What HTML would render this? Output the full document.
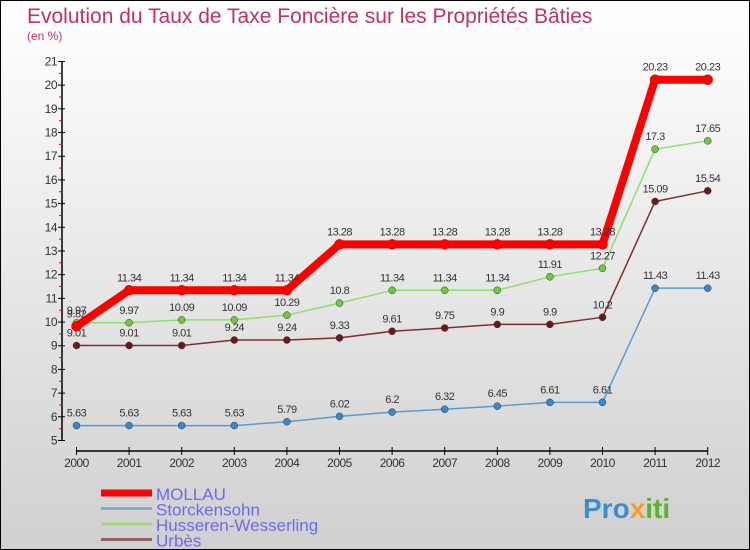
<!DOCTYPE html>
<html><head><meta charset="utf-8"><style>
body{margin:0}
#c{width:748px;height:548px;border:1px solid #000;background:linear-gradient(#ffffff,#d0d0d0);position:relative;overflow:hidden;font-family:"Liberation Sans","DejaVu Sans",sans-serif}
</style></head><body>
<div id="c">
<svg id="s" width="748" height="548" xmlns="http://www.w3.org/2000/svg">
<text x="26" y="22" font-size="21" fill="#c0306a" font-weight="300">Evolution du Taux de Taxe Foncière sur les Propriétés Bâties</text>
<text x="26" y="39" font-size="12" fill="#c0306a">(en %)</text>
<g id="axes"></g><g id="series"></g><g id="legend"></g>
<text x="582" y="517" font-size="28" font-weight="bold" fill="#3a8fd0">Pro<tspan fill="#f0a020">x</tspan><tspan fill="#60b030">iti</tspan></text>
</svg></div>
<script>
const years=[2000,2001,2002,2003,2004,2005,2006,2007,2008,2009,2010,2011,2012];
const yTicks=[5,6,7,8,9,10,11,12,13,14,15,16,17,18,19,20,21];
const mollau=[9.82,11.34,11.34,11.34,11.34,13.28,13.28,13.28,13.28,13.28,13.28,20.23,20.23];
const storckensohn=[5.63,5.63,5.63,5.63,5.79,6.02,6.2,6.32,6.45,6.61,6.61,11.43,11.43];
const husseren=[9.97,9.97,10.09,10.09,10.29,10.8,11.34,11.34,11.34,11.91,12.27,17.3,17.65];
const urbes=[9.01,9.01,9.01,9.24,9.24,9.33,9.61,9.75,9.9,9.9,10.2,15.09,15.54];
const names=["MOLLAU","Storckensohn","Husseren-Wesserling","Urbès"];
const NS="http://www.w3.org/2000/svg";
function X(i){return 75.5+i*52.6;}
function Y(v){return 439.5-(v-5)*23.69;}
function mk(t,a,p){const e=document.createElementNS(NS,t);for(const k in a)e.setAttribute(k,a[k]);p.appendChild(e);return e;}
const ax=document.getElementById('axes');
let e=mk('line',{x1:61,y1:Y(21),x2:61,y2:Y(5),stroke:'#000','stroke-width':1.5},ax);

e=mk('line',{x1:X(0),y1:450,x2:X(12),y2:450,stroke:'#000','stroke-width':1.5},ax);

yTicks.forEach(v=>{mk('line',{x1:57,x2:64,y1:Y(v),y2:Y(v),stroke:'#000'},ax);
 if(v<21)mk('line',{x1:58,x2:61,y1:Y(v+0.5),y2:Y(v+0.5),stroke:'#f00'},ax);
 const t=mk('text',{x:56,y:Y(v)+4,'text-anchor':'end','font-size':12,fill:'#333','letter-spacing':'-0.5'},ax);t.textContent=v;
 });
years.forEach((y,i)=>{mk('line',{x1:X(i),x2:X(i),y1:446,y2:454,stroke:'#000'},ax);
 const t=mk('text',{x:X(i),y:466,'text-anchor':'middle','font-size':12,fill:'#333','letter-spacing':'-0.5'},ax);t.textContent=y;
 });
const sg=document.getElementById('series');
const defs=[[urbes,'#7a3030','#6a1a1a',1.5,'urbes'],[storckensohn,'#5b9bd0','#3a88c8',1.5,'storckensohn'],[husseren,'#90dd70','#70c840',1.5,'husseren-wesserling'],[mollau,'#ff0000','#ff0000',8,'mollau']];
defs.forEach(([d,c,dc,w,n])=>{
 const g=mk('g',{},sg);
 mk('polyline',{points:d.map((v,i)=>X(i)+','+Y(v)).join(' '),fill:'none',stroke:c,'stroke-width':w,'stroke-linejoin':'round'},g);
 d.forEach((v,i)=>{const p=mk('circle',{cx:X(i),cy:Y(v),r:w>4?5:3.5,fill:dc,stroke:w>4?'#c00':'#333','stroke-width':0.5},g);
  
  const t=mk('text',{x:X(i),y:Y(v)-9,'text-anchor':'middle','font-size':11,fill:'#333','letter-spacing':'-0.5'},g);t.textContent=v;
  });
});
const lg=document.getElementById('legend');
const lc=['#ff0000','#7aaed0','#a0dd80','#906060'],lw=[7,3,3,3];
names.forEach((n,i)=>{const y=492+i*15.5;
 const g=mk('g',{},lg);
 mk('line',{x1:100,x2:151,y1:y,y2:y,stroke:lc[i],'stroke-width':lw[i]},g);
 const t=mk('text',{x:155,y:y+7,'font-size':17,fill:'#6a6af0'},g);t.textContent=n;});
</script></body></html>
